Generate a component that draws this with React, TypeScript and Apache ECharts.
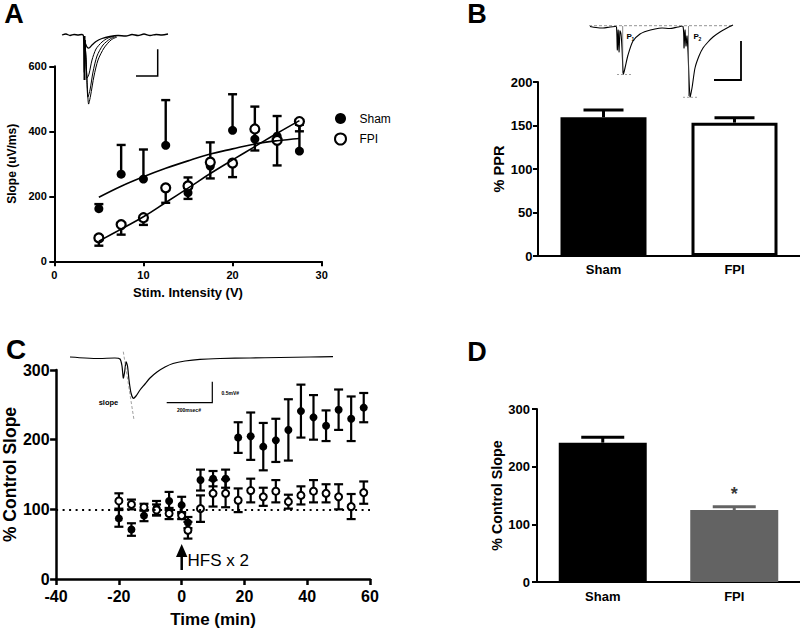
import React, { useEffect, useRef } from 'react';
import * as echarts from 'echarts';

const FONT = '"Liberation Sans", Arial, Helvetica, sans-serif';

// ---------- Panel A: input/output ----------
const stimV = [5, 7.5, 10, 12.5, 15, 17.5, 20, 22.5, 25, 27.5];
const shamSlope = [162, 268, 253, 357, 211, 293, 403, 376, 385, 339];
const shamSlopeUpper = [176, 358, 344, 496, 258, 366, 514, 476, 447, 420];
const fpiSlope = [72, 113, 134, 226, 232, 305, 302, 407, 372, 430];
const fpiSlopeLower = [48, 82, 112, 180, 192, 255, 259, 341, 295, 400];
const shamFit = [197, 231, 260, 286, 309, 330, 346, 361, 371, 378];
const fpiFit = [62, 99, 137, 181, 225, 270, 312, 353, 394, 433];
const aXTicks = { min: 0, max: 30, interval: 10 };
const aYTicks = { min: 0, max: 600, interval: 200 };

// ---------- Panel B: paired-pulse ratio ----------
const groups = ['Sham', 'FPI'];
const pprMean = [159.4, 153.3];
const pprSem = [8.4, 5.7];

// ---------- Panel C: LTP time course ----------
const cTime = [-20, -16, -12, -8, -4, 0, 2, 6, 10, 14, 18, 22, 26, 30, 34, 38, 42, 46, 50, 54, 58];
const cSham = [87, 71, 91, 102, 112, 106, 81, 142, 144, 144, 203, 205, 190, 199, 214, 241, 232, 220, 243, 230, 246];
const cShamErr = [12, 9, 8, 10, 13, 12, 8, 15, 11, 13, 22, 34, 34, 31, 44, 38, 32, 22, 29, 32, 21];
const cFpi = [112, 107, 103, 99, 94, 91, 70, 101, 123, 123, 113, 127, 118, 126, 111, 120, 126, 123, 118, 104, 124];
const cFpiErr = [11, 7, 5, 8, 8, 5, 12, 19, 19, 20, 17, 17, 13, 16, 10, 13, 16, 13, 18, 18, 16];
const cBaseline = 100;

// ---------- Panel D: LTP summary ----------
const ltpMean = [241.6, 124.9];
const ltpSem = [9.3, 5.7];
const ltpColors = ['#000000', '#636363'];

const errRender = (cap: number, lw: number, colors: string | string[], both: boolean) =>
  (params: any, api: any) => {
    const x = api.value(0);
    const a = api.coord([x, api.value(1)]);
    const b = api.coord([x, api.value(2)]);
    const color = Array.isArray(colors) ? colors[params.dataIndex] : colors;
    const style = { stroke: color, lineWidth: lw, fill: null };
    const children: any[] = [
      { type: 'line', shape: { x1: a[0], y1: a[1], x2: b[0], y2: b[1] }, style },
      { type: 'line', shape: { x1: b[0] - cap / 2, y1: b[1], x2: b[0] + cap / 2, y2: b[1] }, style },
    ];
    if (both) {
      children.push({ type: 'line', shape: { x1: a[0] - cap / 2, y1: a[1], x2: a[0] + cap / 2, y2: a[1] }, style });
    }
    return { type: 'group', children };
  };

const axisCommon = (gridIndex: number, lw: number, fs: number, margin: number, tickLen: number) => ({
  gridIndex,
  axisLine: { show: true, onZero: false, lineStyle: { color: '#000', width: lw } },
  axisTick: { show: true, length: tickLen, lineStyle: { color: '#000', width: lw } },
  axisLabel: { color: '#000', fontSize: fs, fontWeight: 'bold', fontFamily: FONT, margin },
  splitLine: { show: false },
});

const nameStyle = (fs: number) => ({ color: '#000', fontSize: fs, fontWeight: 'bold', fontFamily: FONT });

const blackLine = (points: number[][], lw = 1.2, extra: any = {}) => ({
  type: 'polyline',
  shape: { points, smooth: 0.25 },
  style: { stroke: '#000', lineWidth: lw, fill: null, ...extra },
  silent: true,
});

const straight = (x1: number, y1: number, x2: number, y2: number, lw: number, color = '#000', dash?: number[]) => ({
  type: 'line',
  shape: { x1, y1, x2, y2 },
  style: { stroke: color, lineWidth: lw, lineDash: dash },
  silent: true,
});

const txt = (text: string, x: number, y: number, fs: number, weight: string, align = 'left', vAlign = 'middle') => ({
  type: 'text',
  x,
  y,
  style: { text, fontSize: fs, fontWeight: weight, fontFamily: FONT, fill: '#000', align, verticalAlign: vAlign },
  silent: true,
});

export default function App() {
  const ref = useRef<HTMLDivElement>(null);

  useEffect(() => {
    document.body.style.margin = '0';
    const chart = echarts.init(ref.current!, null, { renderer: 'svg' });

    // Inset traces (illustrations)
    const traceA = [
      blackLine([[62, 35], [66, 34], [70, 35.5], [74, 34.5], [78, 35], [82, 34.5], [83.5, 36], [84.3, 72], [85.5, 44], [87, 47], [89, 48], [92, 45], [96, 41.5], [102, 38.5], [110, 36.5], [118, 35.5], [126, 36], [132, 34.5], [138, 35.5], [144, 34], [150, 35.5], [156, 34.5], [162, 35], [168, 34]], 1.3),
      blackLine([[85, 40], [86, 60], [87, 78], [89, 74], [92, 60], [96, 49], [102, 42], [108, 38], [114, 36.5]], 1),
      blackLine([[85, 40], [86.5, 70], [87.8, 97], [90, 90], [93, 72], [97, 56], [103, 45], [110, 39], [116, 36.5]], 1),
      blackLine([[85, 40], [87, 80], [88.5, 104], [90.5, 96], [94, 76], [98, 60], [104, 48], [111, 40], [117, 37]], 1),
      straight(84.5, 36, 84.5, 80, 2),
      { type: 'polyline', shape: { points: [[157.7, 49.3], [157.7, 76], [136, 76]] }, style: { stroke: '#000', lineWidth: 1.5, fill: null }, silent: true },
    ];

    const traceB = [
      straight(589, 25.7, 733, 25.7, 0.8, '#777', [3, 2]),
      blackLine([[590, 26.5], [596, 27.5], [603, 28], [610, 27], [615, 26.5], [616.5, 27], [617.3, 50], [618.2, 30], [619, 52], [620, 31], [621, 34], [622, 48], [623.3, 74], [625, 68], [628, 55], [633, 41], [640, 34], [647, 31], [655, 29], [662, 28], [670, 28.5], [678, 27], [683, 26.5], [684, 48], [685, 30], [686, 46], [687, 36], [688, 52], [690, 96.7], [692, 88], [695, 68], [699, 56], [703, 48], [708, 42], [713, 37], [720, 32], [727, 28], [733, 25]], 1.1),
      straight(622.7, 26, 622.7, 73, 0.7, '#555'),
      straight(688.5, 26, 688.5, 96, 0.7, '#555'),
      straight(617, 74.5, 631, 74.5, 0.7, '#777', [2, 2]),
      straight(683, 97.3, 698, 97.3, 0.7, '#777', [2, 2]),
      txt('P', 626.5, 36, 8, 'bold'),
      txt('1', 631.5, 38.5, 5, 'bold'),
      txt('P', 693.5, 36, 8, 'bold'),
      txt('2', 698.5, 38.5, 5, 'bold'),
      { type: 'polyline', shape: { points: [[741, 41], [741, 80], [714, 80]] }, style: { stroke: '#000', lineWidth: 1.8, fill: null }, silent: true },
    ];

    const traceC = [
      blackLine([[70, 357], [85, 358], [100, 358.5], [115, 358], [120, 359], [122, 366], [123.3, 378], [124.6, 372], [126, 362], [127.5, 366], [129, 380], [131, 393], [133.3, 398.3], [136, 396], [140, 390], [145, 384], [150, 378], [157, 372], [165, 367], [173, 363.5], [185, 361], [200, 359.3], [220, 358.5], [250, 358], [280, 357.5], [310, 357], [333, 356.7]], 1.2),
      straight(123.3, 351.7, 134, 420, 0.7, '#777', [3, 2]),
      txt('slope', 108.5, 402, 7.5, 'bold', 'center'),
      { type: 'polyline', shape: { points: [[212.3, 381.7], [212.3, 402.7], [166.7, 402.7]] }, style: { stroke: '#000', lineWidth: 1.2, fill: null }, silent: true },
      txt('0.5mV#', 221.5, 392.5, 5, 'bold'),
      txt('200msec#', 177, 410, 5, 'bold'),
    ];

    const arrowHFS = [
      straight(181.7, 555, 181.7, 570, 2.5),
      { type: 'polygon', shape: { points: [[176, 557], [187.4, 557], [181.7, 544]] }, style: { fill: '#000' }, silent: true },
      txt('HFS x 2', 187.5, 560.5, 17, 'normal'),
    ];

    const letters = [
      txt('A', 14, 0, 27, 'bold', 'center', 'top'),
      txt('B', 477, 0, 27, 'bold', 'center', 'top'),
      txt('C', 16, 335.5, 28, 'bold', 'center', 'top'),
      txt('D', 477, 338.5, 27, 'bold', 'center', 'top'),
    ];

    const option: any = {
      animation: false,
      textStyle: { fontFamily: FONT },
      grid: [
        { left: 54.3, top: 66.3, width: 267.4, height: 195, containLabel: false },
        { left: 538, top: 82, width: 262, height: 174, containLabel: false },
        { left: 55, top: 370, width: 315, height: 209.3, containLabel: false },
        { left: 537, top: 409, width: 263, height: 173, containLabel: false },
      ],
      legend: {
        data: ['Sham', 'FPI'],
        orient: 'vertical',
        left: 329,
        top: 107.5,
        itemWidth: 28,
        itemHeight: 11,
        itemGap: 8,
        selectedMode: false,
        textStyle: { color: '#000', fontSize: 12, fontFamily: FONT },
      },
      xAxis: [
        {
          type: 'value', ...aXTicks, ...axisCommon(0, 2, 11, 8, 5),
          name: 'Stim. Intensity (V)', nameLocation: 'middle', nameGap: 25, nameTextStyle: nameStyle(13),
        },
        {
          type: 'category', data: groups, ...axisCommon(1, 2, 13, 7, 0),
          axisTick: { show: false },
        },
        {
          type: 'value', min: -40, max: 60, interval: 20, ...axisCommon(2, 2.5, 16, 9, 6),
          name: 'Time (min)', nameLocation: 'middle', nameGap: 32, nameTextStyle: nameStyle(17),
        },
        {
          type: 'category', data: groups, ...axisCommon(3, 2, 13, 7.5, 0),
          axisTick: { show: false },
        },
      ],
      yAxis: [
        {
          type: 'value', ...aYTicks, ...axisCommon(0, 2, 11, 7.5, 5),
          name: 'Slope (uV/ms)', nameLocation: 'middle', nameGap: 36, nameRotate: 90, nameTextStyle: nameStyle(12),
        },
        {
          type: 'value', min: 0, max: 200, interval: 50, ...axisCommon(1, 2, 13, 5.5, 5),
          name: '% PPR', nameLocation: 'middle', nameGap: 32, nameRotate: 90, nameTextStyle: nameStyle(14.5),
        },
        {
          type: 'value', min: 0, max: 300, interval: 100, ...axisCommon(2, 2.5, 16, 6.5, 6),
          name: '% Control Slope', nameLocation: 'middle', nameGap: 37, nameRotate: 90, nameTextStyle: nameStyle(17.5),
        },
        {
          type: 'value', min: 0, max: 300, interval: 100, ...axisCommon(3, 2, 13, 7, 5),
          name: '% Control Slope', nameLocation: 'middle', nameGap: 32, nameRotate: 90, nameTextStyle: nameStyle(14.3),
        },
      ],
      series: [
        // ----- A -----
        {
          type: 'line', name: 'Sham fit', xAxisIndex: 0, yAxisIndex: 0,
          data: stimV.map((v, i) => [v, shamFit[i]]), smooth: 0.4, showSymbol: false, silent: true,
          lineStyle: { color: '#000', width: 1.6 },
        },
        {
          type: 'line', name: 'FPI fit', xAxisIndex: 0, yAxisIndex: 0,
          data: stimV.map((v, i) => [v, fpiFit[i]]), smooth: 0.4, showSymbol: false, silent: true,
          lineStyle: { color: '#000', width: 1.6 },
        },
        {
          type: 'custom', name: 'Sham err', xAxisIndex: 0, yAxisIndex: 0, silent: true,
          data: stimV.map((v, i) => [v, shamSlope[i], shamSlopeUpper[i]]),
          encode: { x: 0, y: [1, 2] },
          renderItem: errRender(9, 2.4, '#000', false),
        },
        {
          type: 'custom', name: 'FPI err', xAxisIndex: 0, yAxisIndex: 0, silent: true,
          data: stimV.map((v, i) => [v, fpiSlope[i], fpiSlopeLower[i]]),
          encode: { x: 0, y: [1, 2] },
          renderItem: errRender(9, 2.4, '#000', false),
        },
        {
          type: 'scatter', name: 'Sham', xAxisIndex: 0, yAxisIndex: 0,
          data: stimV.map((v, i) => [v, shamSlope[i]]), symbol: 'circle', symbolSize: 9,
          itemStyle: { color: '#000', opacity: 1 },
        },
        {
          type: 'scatter', name: 'FPI', xAxisIndex: 0, yAxisIndex: 0,
          data: stimV.map((v, i) => [v, fpiSlope[i]]), symbol: 'circle', symbolSize: 9,
          itemStyle: { color: '#fff', borderColor: '#000', borderWidth: 2.2, opacity: 1 },
        },
        // ----- B -----
        {
          type: 'bar', name: 'PPR', xAxisIndex: 1, yAxisIndex: 1, barWidth: 86, silent: true,
          data: [
            { value: pprMean[0], itemStyle: { color: '#000' } },
            { value: pprMean[1], itemStyle: { color: '#fff', borderColor: '#000', borderWidth: 3 } },
          ],
        },
        {
          type: 'custom', name: 'PPR err', xAxisIndex: 1, yAxisIndex: 1, silent: true,
          data: pprMean.map((m, i) => [i, m, m + pprSem[i]]),
          encode: { x: 0, y: [1, 2] },
          renderItem: errRender(40, 3, '#000', false),
        },
        // ----- C -----
        {
          type: 'custom', name: 'Sham LTP err', xAxisIndex: 2, yAxisIndex: 2, silent: true,
          data: cTime.map((t, i) => [t, cSham[i] - cShamErr[i], cSham[i] + cShamErr[i]]),
          encode: { x: 0, y: [1, 2] },
          renderItem: errRender(9, 2.2, '#000', true),
        },
        {
          type: 'custom', name: 'FPI LTP err', xAxisIndex: 2, yAxisIndex: 2, silent: true,
          data: cTime.map((t, i) => [t, cFpi[i] - cFpiErr[i], cFpi[i] + cFpiErr[i]]),
          encode: { x: 0, y: [1, 2] },
          renderItem: errRender(9, 2.2, '#000', true),
        },
        {
          type: 'scatter', name: 'Sham LTP', xAxisIndex: 2, yAxisIndex: 2,
          data: cTime.map((t, i) => [t, cSham[i]]), symbol: 'circle', symbolSize: 8,
          itemStyle: { color: '#000', opacity: 1 },
          markLine: {
            silent: true, symbol: 'none', label: { show: false },
            lineStyle: { color: '#000', width: 2, type: [2, 4.5] },
            data: [{ yAxis: cBaseline }],
          },
        },
        {
          type: 'scatter', name: 'FPI LTP', xAxisIndex: 2, yAxisIndex: 2,
          data: cTime.map((t, i) => [t, cFpi[i]]), symbol: 'circle', symbolSize: 7,
          itemStyle: { color: '#fff', borderColor: '#000', borderWidth: 2, opacity: 1 },
        },
        // ----- D -----
        {
          type: 'bar', name: 'LTP', xAxisIndex: 3, yAxisIndex: 3, barWidth: 88, silent: true,
          data: ltpMean.map((m, i) => ({ value: m, itemStyle: { color: ltpColors[i] } })),
        },
        {
          type: 'custom', name: 'LTP err', xAxisIndex: 3, yAxisIndex: 3, silent: true,
          data: ltpMean.map((m, i) => [i, m, m + ltpSem[i]]),
          encode: { x: 0, y: [1, 2] },
          renderItem: errRender(43, 3, ltpColors, false),
        },
        {
          type: 'scatter', name: 'sig', xAxisIndex: 3, yAxisIndex: 3, symbolSize: 0, silent: true,
          data: [[1, 153]],
          label: { show: true, position: 'inside', formatter: '*', fontSize: 18, fontWeight: 'bold', color: '#000', fontFamily: FONT },
        },
      ],
      graphic: { elements: [...letters, ...traceA, ...traceB, ...traceC, ...arrowHFS] },
    };

    chart.setOption(option);
    return () => chart.dispose();
  }, []);

  return (
    <div
      ref={ref}
      style={{ position: 'fixed', left: 0, top: 0, width: 800, height: 629, background: '#fff' }}
    />
  );
}
